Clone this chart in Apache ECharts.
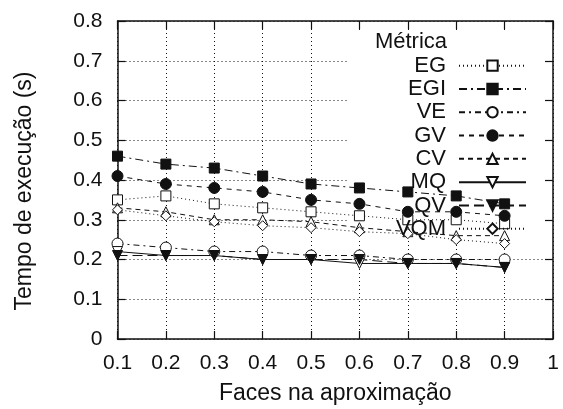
<!DOCTYPE html>
<html>
<head>
<meta charset="utf-8">
<script src="https://cdn.jsdelivr.net/npm/echarts@6/dist/echarts.min.js"></script>
<style>
  html, body { margin: 0; padding: 0; background: #fff; }
  #chart { width: 563px; height: 409px; }
</style>
</head>
<body>
<div id="chart"></div>
<script>
// Fraction of faces kept in the approximation
const faces = [0.1, 0.2, 0.3, 0.4, 0.5, 0.6, 0.7, 0.8, 0.9];

// Execution time (s) per metric
const EG  = [0.35, 0.36, 0.34, 0.33, 0.32, 0.31, 0.30, 0.30, 0.29];
const EGI = [0.46, 0.44, 0.43, 0.41, 0.39, 0.38, 0.37, 0.36, 0.34];
const VE  = [0.24, 0.23, 0.22, 0.22, 0.21, 0.21, 0.20, 0.20, 0.20];
const GV  = [0.41, 0.39, 0.38, 0.37, 0.35, 0.34, 0.32, 0.32, 0.31];
const CV  = [0.33, 0.32, 0.30, 0.30, 0.295, 0.28, 0.27, 0.26, 0.26];
const MQ  = [0.22, 0.21, 0.21, 0.20, 0.20, 0.19, 0.19, 0.19, 0.18];
const QV  = [0.21, 0.21, 0.21, 0.20, 0.20, 0.20, 0.19, 0.19, 0.18];
const VQM = [0.325, 0.31, 0.295, 0.285, 0.28, 0.27, 0.265, 0.25, 0.24];

const metricNames = ['EG', 'EGI', 'VE', 'GV', 'CV', 'MQ', 'QV', 'VQM'];
const legendTitle = 'Métrica';
const xTitle = 'Faces na aproximação';
const yTitle = 'Tempo de execução (s)';

const FONT = '"Liberation Sans", Arial, Helvetica, sans-serif';
const INK = '#111';

function pairs(values) {
  return faces.map((f, i) => [f, values[i]]);
}

// symbol, rotation, filled?, dash pattern
const styles = {
  EG:  { symbol: 'rect',     rotate: 0,   filled: false, dash: [1, 3] },
  EGI: { symbol: 'rect',     rotate: 0,   filled: true,  dash: [8, 4, 2, 4] },
  VE:  { symbol: 'circle',   rotate: 0,   filled: false, dash: [6, 4, 2, 4] },
  GV:  { symbol: 'circle',   rotate: 0,   filled: true,  dash: [5, 5] },
  CV:  { symbol: 'triangle', rotate: 0,   filled: false, dash: [5, 4] },
  MQ:  { symbol: 'triangle', rotate: 180, filled: false, dash: 'solid' },
  QV:  { symbol: 'triangle', rotate: 180, filled: true,  dash: [10, 5] },
  VQM: { symbol: 'diamond',  rotate: 0,   filled: false, dash: [1, 3] }
};
const valuesByName = { EG, EGI, VE, GV, CV, MQ, QV, VQM };

const series = metricNames.map(name => {
  const s = styles[name];
  return {
    name,
    type: 'line',
    xAxisIndex: 0,
    yAxisIndex: 0,
    data: pairs(valuesByName[name]),
    symbol: s.symbol,
    symbolRotate: s.rotate,
    symbolSize: s.symbol === 'circle' ? 11 : 10,
    showAllSymbol: true,
    lineStyle: { color: INK, width: 1, type: s.dash },
    itemStyle: {
      color: s.filled ? INK : '#fff',
      borderColor: INK,
      borderWidth: 1
    },
    emphasis: { disabled: true },
    z: 2
  };
});

const tickLabel = { fontFamily: FONT, fontSize: 21, color: INK };

const chart = echarts.init(document.getElementById('chart'), null, { renderer: 'canvas' });
chart.setOption({
  animation: false,
  backgroundColor: '#fff',
  grid: {
    left: 117.5, right: 10, top: 21, bottom: 70,
    containLabel: false,
    outerBoundsMode: 'none'
  },
  title: {
    text: legendTitle,
    right: 116, top: 31, padding: 0,
    textStyle: { fontFamily: FONT, fontSize: 22, fontWeight: 'normal', color: INK }
  },
  legend: {
    data: metricNames,
    orient: 'vertical',
    align: 'right',
    right: 36, top: 54, padding: 0,
    itemWidth: 67, itemHeight: 13, itemGap: 0,
    selectedMode: false,
    textStyle: {
      fontFamily: FONT, fontSize: 22, color: INK,
      lineHeight: 23.3, padding: [0, 8, 0, 0]
    },
    z: 5
  },
  xAxis: [{
    type: 'value', position: 'bottom',
    min: 0.1, max: 1, interval: 0.1,
    name: xTitle, nameLocation: 'middle', nameGap: 43,
    nameMoveOverlap: false,
    nameTextStyle: { fontFamily: FONT, fontSize: 23, color: INK },
    axisLine: { show: true, onZero: false, lineStyle: { color: INK, width: 1.5 } },
    axisTick: { show: true, inside: true, length: 8, lineStyle: { color: INK, width: 1.2 } },
    axisLabel: Object.assign({ margin: 14 }, tickLabel),
    splitLine: { show: true, lineStyle: { color: INK, width: 1, type: [1, 3] } }
  }, {
    type: 'value', position: 'top',
    min: 0.1, max: 1, interval: 0.1,
    axisLine: { show: true, onZero: false, lineStyle: { color: INK, width: 1.5 } },
    axisTick: { show: true, inside: true, length: 8, lineStyle: { color: INK, width: 1.2 } },
    axisLabel: { show: false },
    splitLine: { show: false }
  }],
  yAxis: [{
    type: 'value', position: 'left',
    min: 0, max: 0.8, interval: 0.1,
    name: yTitle, nameLocation: 'middle', nameGap: 81,
    nameMoveOverlap: false,
    nameTextStyle: { fontFamily: FONT, fontSize: 23, color: INK, padding: [0, 22, 0, 0] },
    axisLine: { show: true, onZero: false, lineStyle: { color: INK, width: 1.5 } },
    axisTick: { show: true, inside: true, length: 8, lineStyle: { color: INK, width: 1.2 } },
    axisLabel: Object.assign({ margin: 15 }, tickLabel),
    splitLine: { show: true, lineStyle: { color: INK, width: 1, type: [1, 3] } }
  }, {
    type: 'value', position: 'right',
    min: 0, max: 0.8, interval: 0.1,
    axisLine: { show: true, onZero: false, lineStyle: { color: INK, width: 1.5 } },
    axisTick: { show: true, inside: true, length: 8, lineStyle: { color: INK, width: 1.2 } },
    axisLabel: { show: false },
    splitLine: { show: false }
  }],
  // clear panel behind the key so the grid does not run through it
  graphic: [{
    type: 'rect',
    shape: { x: 347, y: 30, width: 197, height: 209 },
    style: { fill: '#fff' },
    z: 1,
    silent: true
  }],
  series
});
</script>
</body>
</html>
